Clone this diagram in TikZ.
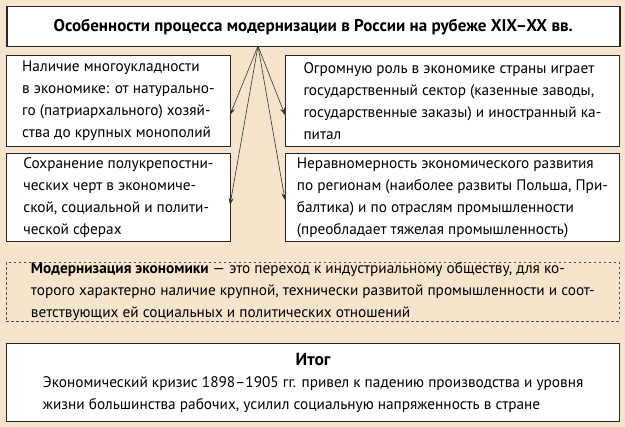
\documentclass[tikz,border=0pt]{standalone}
\usepackage{fontspec}
\setmainfont{PT Sans}
\usetikzlibrary{arrows.meta}
\definecolor{bg}{HTML}{F6E5CC}
\tikzset{
 box/.style={draw=black!85,line width=0.8pt,fill=white,anchor=north west,align=left,inner ysep=0pt,inner xsep=7pt,font=\fontsize{15.3}{22}\selectfont},
 arr/.style={-{Stealth[length=7pt,width=5pt]},line width=0.6pt,black!80}
}
\begin{document}
\begin{tikzpicture}[x=1pt,y=-1pt]
\fill[bg] (0,0) rectangle (625,427);
\useasboundingbox (0,0) rectangle (625,427);
\node[box,line width=1.5pt,minimum width=613pt,minimum height=40pt,align=center,anchor=north west,font=\bfseries\fontsize{17}{20}\selectfont] (t) at (6,6) {Особенности процесса модернизации в России на рубеже XIX--XX вв.};
\node[box,minimum width=224pt,minimum height=91pt] (a) at (6,55) {Наличие многоукладности\\в экономике: от натурально-\\го (патриархального) хозяй-\\ства до крупных монополий};
\node[box,minimum width=334pt,minimum height=91pt] (b) at (285,55) {Огромную роль в экономике страны играет\\государственный сектор (казенные заводы,\\государственные заказы) и иностранный ка-\\питал};
\node[box,minimum width=224pt,minimum height=88pt] (c) at (6,153) {Сохранение полукрепостни-\\ческих черт в экономиче-\\ской, социальной и полити-\\ческой сферах};
\node[box,minimum width=334pt,minimum height=88pt] (d) at (285,153) {Неравномерность экономического развития\\по регионам (наиболее развиты Польша, При-\\балтика) и по отраслям промышленности\\(преобладает тяжелая промышленность)};
\coordinate (o) at (258,46);
\draw[arr] (o) -- (230,115);
\draw[arr] (o) -- (285,115);
\draw[arr] (o) -- (230,205);
\draw[arr] (o) -- (285,200);
\node[box,fill=none,draw=black!70,dash pattern=on 2.5pt off 2.5pt,line width=0.7pt,minimum width=613pt,minimum height=59pt] (e) at (6,262) {\textbf{Модернизация экономики} --- это переход к индустриальному обществу, для ко-\\торого характерно наличие крупной, технически развитой промышленности и соот-\\ветствующих ей социальных и политических отношений};
\node[box,line width=1.3pt,minimum width=613pt,minimum height=78pt,align=center] (f) at (6,343) {{\bfseries\fontsize{17.5}{22}\selectfont Итог}\\Экономический кризис 1898--1905 гг. привел к падению производства и уровня\\\makebox[0pt][l]{жизни большинства рабочих, усилил социальную напряженность в стране}\phantom{Экономический кризис 1898--1905 гг. привел к падению производства и уровня}};
\end{tikzpicture}
\end{document}
